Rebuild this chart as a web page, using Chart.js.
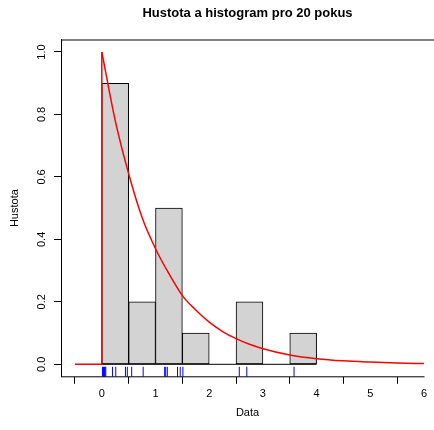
<!DOCTYPE html>
<html>
<head>
<meta charset="utf-8">
<script src="https://cdn.jsdelivr.net/npm/chart.js@4"></script>
<style>
  html, body { margin: 0; padding: 0; background: #fff; }
  #wrap { width: 434px; height: 430px; }
</style>
</head>
<body>
<div id="wrap"><canvas id="grafica" width="434" height="430"></canvas></div>
<script>
// histogram (density per bin)
const binMids = [0.25, 0.75, 1.25, 1.75, 2.25, 2.75, 3.25, 3.75]
const binDensity = [0.9, 0.2, 0.5, 0.1, 0, 0.2, 0, 0.1]
const binEdges = [0, 4]

// observed data (rug)
const samples = [0.012, 0.031, 0.049, 0.06, 0.074, 0.20, 0.26, 0.44, 0.475,
    0.556, 0.77, 1.17, 1.19, 1.22, 1.41, 1.46, 1.51, 2.56, 2.70, 3.58]

// red density curve
const tailX = [-0.5, 0, 0]
const tailY = [0, 0, 1]
const curveX = [0, 0.25, 0.5, 0.75, 1, 1.25, 1.5, 1.75, 2, 2.25, 2.5, 2.75, 3, 3.5, 4, 4.5, 5, 5.5, 6]
const curveY = [1.0, 0.78, 0.61, 0.47, 0.37, 0.29, 0.22, 0.174, 0.135, 0.105, 0.082, 0.064, 0.05, 0.03, 0.018, 0.011, 0.007, 0.004, 0.0025]

const xTicks = [0, 1, 2, 3, 4, 5, 6]
const yTicks = [0, 0.2, 0.4, 0.6, 0.8, 1.0]

const font = "'Liberation Sans', Arial, Helvetica, sans-serif"

const pairs = (xs, ys) => xs.map((x, i) => ({ x: x, y: ys[i] }))

// box top + bottom axis line, like base R
const framePlugin = {
    id: 'frame',
    afterDraw(chart) {
        const { ctx, chartArea, scales } = chart
        ctx.save()
        ctx.strokeStyle = '#000'
        ctx.lineWidth = 1
        ctx.beginPath()
        ctx.moveTo(chartArea.left, chartArea.top + 0.5)
        ctx.lineTo(chartArea.right, chartArea.top + 0.5)
        ctx.moveTo(chartArea.left, chartArea.bottom)
        ctx.lineTo(scales.x.getPixelForValue(xTicks[xTicks.length - 1]) + 0.5, chartArea.bottom)
        ctx.stroke()
        ctx.restore()
    }
}

const data = {
    datasets: [
        {
            type: 'line',
            label: 'hustota',
            data: pairs(curveX, curveY),
            borderColor: '#ff0000',
            borderWidth: 1.5,
            pointRadius: 0,
            fill: false,
            cubicInterpolationMode: 'monotone',
            order: 0
        },
        {
            type: 'line',
            label: 'hustota0',
            data: pairs(tailX, tailY),
            borderColor: '#ff0000',
            borderWidth: 1.5,
            pointRadius: 0,
            fill: false,
            tension: 0,
            order: 0
        },
        {
            type: 'scatter',
            label: 'rug',
            data: samples.map(v => ({ x: v, y: -0.024 })),
            pointStyle: 'line',
            rotation: 90,
            radius: 5,
            borderColor: '#0000ff',
            borderWidth: 1,
            order: 1
        },
        {
            type: 'line',
            label: 'baseline',
            data: binEdges.map(v => ({ x: v, y: 0 })),
            borderColor: '#000',
            borderWidth: 1,
            pointRadius: 0,
            order: 2
        },
        {
            type: 'bar',
            label: 'histogram',
            data: pairs(binMids, binDensity),
            backgroundColor: '#d3d3d3',
            borderColor: '#000',
            borderWidth: 1,
            borderSkipped: false,
            barPercentage: 1,
            categoryPercentage: 1,
            order: 3
        }
    ]
}

const config = {
    type: 'bar',
    data: data,
    plugins: [framePlugin],
    options: {
        responsive: false,
        animation: false,
        layout: { padding: 0, autoPadding: false },
        plugins: {
            legend: { display: false },
            tooltip: { enabled: false },
            title: {
                display: true,
                text: 'Hustota a histogram pro 20 pokus',
                fullSize: false,
                color: '#000',
                font: { family: font, size: 13, weight: 'bold' },
                padding: { top: 5.5, bottom: 18.4 }
            }
        },
        scales: {
            x: {
                type: 'linear',
                min: -0.76,
                max: 6.186,
                offset: false,
                afterBuildTicks: s => { s.ticks = xTicks.map(v => ({ value: v })) },
                afterFit: s => {
                    s.height = 53.2
                    s.paddingLeft = 0
                    s.paddingRight = 0
                },
                ticks: {
                    color: '#000',
                    font: { family: font, size: 11 },
                    padding: 4,
                    maxRotation: 0,
                    callback: v => String(v)
                },
                grid: { drawOnChartArea: false, drawTicks: true, tickLength: 7, color: '#000' },
                border: { display: false },
                title: {
                    display: true,
                    text: 'Data',
                    color: '#000',
                    font: { family: font, size: 11 },
                    padding: { top: 0, bottom: 10 }
                }
            },
            y: {
                type: 'linear',
                min: -0.04,
                max: 1.04,
                afterBuildTicks: s => { s.ticks = yTicks.map(v => ({ value: v })) },
                afterFit: s => {
                    s.width = 61
                    s.paddingTop = 0
                    s.paddingBottom = 0
                },
                ticks: {
                    color: '#000',
                    font: { family: font, size: 11 },
                    padding: 4,
                    minRotation: 90,
                    maxRotation: 90,
                    crossAlign: 'center',
                    callback: v => v.toFixed(1)
                },
                grid: { drawOnChartArea: false, drawTicks: true, tickLength: 7, color: '#000' },
                border: { display: true, color: '#000', width: 1 },
                title: {
                    display: true,
                    text: 'Hustota',
                    color: '#000',
                    font: { family: font, size: 11 },
                    padding: { top: 8, bottom: 0 }
                }
            }
        }
    }
}

new Chart(document.querySelector('#grafica'), config)
</script>
</body>
</html>
